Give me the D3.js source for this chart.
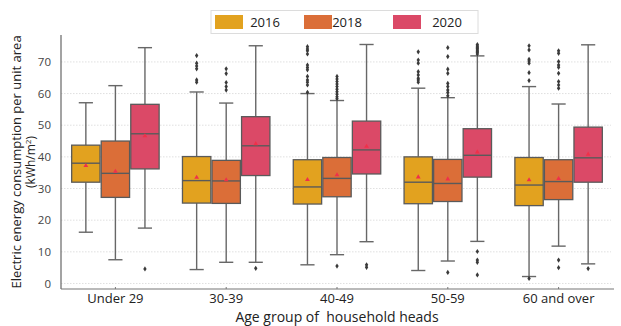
<!DOCTYPE html>
<html><head><meta charset="utf-8">
<script src="https://cdn.jsdelivr.net/npm/d3@7"></script>
<style>body{margin:0;background:#fff}svg{display:block;font-family:"Open Sans",sans-serif}</style>
</head><body><svg id="c" width="621" height="326"></svg>
<script>
const categories = ["Under 29","30-39","40-49","50-59","60 and over"];
const years = ["2016","2018","2020"];
const colors = ["#E2A21F","#DB6E38","#DB4967"];
const yTicks = [0,10,20,30,40,50,60,70];

const low2016 = [16.2, 4.4, 5.9, 4.1, 2.2];
const q1_2016 = [32.0, 25.4, 25.1, 25.2, 24.6];
const med2016 = [38.0, 32.5, 30.5, 32.0, 31.1];
const q3_2016 = [43.7, 40.1, 39.1, 40.0, 39.8];
const high2016 = [57.1, 60.5, 60.0, 61.7, 62.2];
const mean2016 = [37.2, 33.5, 32.8, 33.6, 32.7];
const out2016 = [[], [72.0, 69.6, 68.7, 67.8, 64.3, 63.6], [74.8, 74.1, 73.5, 72.5, 69.0, 68.2, 67.5, 65.4, 64.3, 63.6, 62.7, 60.4], [73.2, 70.6, 69.6, 66.9, 65.9, 64.8, 64.3, 63.6], [75.1, 73.8, 70.8, 70.3, 69.6, 66.6, 64.1, 1.6]];

const low2018 = [7.5, 6.7, 9.1, 7.1, 11.8];
const q1_2018 = [27.2, 25.3, 27.4, 25.9, 26.5];
const med2018 = [34.8, 32.4, 33.2, 31.6, 32.2];
const q3_2018 = [45.0, 38.9, 39.8, 39.2, 39.1];
const high2018 = [62.5, 57.0, 57.8, 58.7, 56.7];
const mean2018 = [35.4, 32.7, 34.3, 33.0, 33.1];
const out2018 = [[], [67.8, 66.3, 63.5, 62.2, 61.1], [65.4, 64.6, 63.8, 63.0, 62.2, 61.4, 60.6, 59.8, 59.0, 58.4, 5.5], [74.5, 71.7, 67.7, 66.4, 63.2, 62.2, 61.1, 60.3, 59.3, 3.5], [73.5, 72.7, 70.1, 69.0, 68.3, 66.4, 63.8, 62.7, 61.7, 7.4, 5.0]];

const low2020 = [17.5, 6.7, 13.2, 13.3, 6.2];
const q1_2020 = [36.2, 34.1, 34.6, 33.6, 32.0];
const med2020 = [47.3, 43.5, 42.2, 40.5, 39.7];
const q3_2020 = [56.6, 52.7, 51.3, 48.9, 49.4];
const high2020 = [74.5, 75.1, 75.5, 71.9, 75.4];
const mean2020 = [46.6, 44.1, 43.3, 41.5, 40.8];
const out2020 = [[4.6], [4.8], [5.9, 5.1], [75.5, 75.0, 74.6, 74.2, 73.8, 73.4, 73.0, 72.5, 10.1, 7.4, 6.7, 2.7], [4.7]];

const stats = [
  {low:low2016,q1:q1_2016,med:med2016,q3:q3_2016,high:high2016,mean:mean2016,out:out2016},
  {low:low2018,q1:q1_2018,med:med2018,q3:q3_2018,high:high2018,mean:mean2018,out:out2018},
  {low:low2020,q1:q1_2020,med:med2020,q3:q3_2020,high:high2020,mean:mean2020,out:out2020}
];

const svg = d3.select("#c");
const L=60, R=614, T=35, B=289;
const x = d3.scaleBand().domain(categories).range([L,R]).paddingInner(0).paddingOuter(0);
const sub = d3.scaleBand().domain(years).range([-x.bandwidth()*0.4, x.bandwidth()*0.4]);
const y = d3.scaleLinear().domain([-1.74, 78.5]).range([B,T]);

// grid
svg.append("g").selectAll("line").data(yTicks).join("line")
  .attr("x1",L+1).attr("x2",R-3).attr("y1",d=>y(d)).attr("y2",d=>y(d))
  .attr("stroke","#d8d8d8").attr("stroke-width",0.8).attr("stroke-dasharray","1.5,1.5");

// y axis
const ya = svg.append("g").attr("transform",`translate(${L+1},0)`)
  .call(d3.axisLeft(y).tickValues(yTicks).tickSize(0).tickPadding(10));
ya.select(".domain").remove();
ya.selectAll("text").attr("font-size",11.5).attr("fill","#444").attr("font-family","Open Sans, sans-serif");
svg.append("line").attr("x1",L+1).attr("x2",L+1).attr("y1",T).attr("y2",B).attr("stroke","#666").attr("stroke-width",1.2);

// x axis
const xa = svg.append("g").attr("transform",`translate(0,${B})`)
  .call(d3.axisBottom(x).tickSize(-2).tickPadding(5));
xa.select(".domain").remove();
xa.selectAll(".tick line").attr("stroke","#777");
xa.selectAll("text").attr("font-size",13).attr("fill","#222").attr("font-family","Open Sans, sans-serif");
svg.append("line").attr("x1",L+1).attr("x2",R).attr("y1",B).attr("y2",B).attr("stroke","#777").attr("stroke-width",1.2);

// boxes
const bw = sub.bandwidth()*0.96;
years.forEach((yr,k)=>{
  const s = stats[k];
  const g = svg.append("g");
  categories.forEach((c,i)=>{
    const cx = x(c)+x.bandwidth()/2 + sub(yr) + sub.bandwidth()/2;
    const gg = g.append("g");
    const wc="#676767", lw=1.4, cap=bw*0.5;
    gg.append("line").attr("x1",cx).attr("x2",cx).attr("y1",y(s.high[i])).attr("y2",y(s.q3[i])).attr("stroke",wc).attr("stroke-width",lw);
    gg.append("line").attr("x1",cx).attr("x2",cx).attr("y1",y(s.q1[i])).attr("y2",y(s.low[i])).attr("stroke",wc).attr("stroke-width",lw);
    gg.append("line").attr("x1",cx-cap/2).attr("x2",cx+cap/2).attr("y1",y(s.high[i])).attr("y2",y(s.high[i])).attr("stroke",wc).attr("stroke-width",lw);
    gg.append("line").attr("x1",cx-cap/2).attr("x2",cx+cap/2).attr("y1",y(s.low[i])).attr("y2",y(s.low[i])).attr("stroke",wc).attr("stroke-width",lw);
    gg.append("rect").attr("x",cx-bw/2).attr("width",bw).attr("y",y(s.q3[i])).attr("height",y(s.q1[i])-y(s.q3[i]))
      .attr("fill",colors[k]).attr("stroke","#5a5a5a").attr("stroke-width",1.3);
    gg.append("line").attr("x1",cx-bw/2).attr("x2",cx+bw/2).attr("y1",y(s.med[i])).attr("y2",y(s.med[i])).attr("stroke","#5a5a5a").attr("stroke-width",1.4);
    gg.append("path").attr("d",d3.symbol(d3.symbolTriangle,10)()).attr("transform",`translate(${cx},${y(s.mean[i])})`).attr("fill","#f0304a");
    gg.selectAll("path.o").data(s.out[i]).join("path").attr("class","o")
      .attr("d","M0,-2.6L1.7,0L0,2.6L-1.7,0Z").attr("transform",d=>`translate(${cx},${y(d)})`).attr("fill","#3a3a3a");
  });
});

// legend
const lg = svg.append("g");
lg.append("rect").attr("x",211).attr("y",10.5).attr("width",267).attr("height",23).attr("fill","#fff").attr("stroke","#dcdcdc");
years.forEach((yr,k)=>{
  const sx = 215 + k*89;
  lg.append("rect").attr("x",sx).attr("y",15).attr("width",28).attr("height",14).attr("fill",colors[k]);
  lg.append("text").attr("x",sx+[50,43,54][k]).attr("y",27).attr("text-anchor","middle").attr("font-size",13).attr("fill","#222").text(yr);
});

// titles
svg.append("text").attr("x",(L+R)/2).attr("y",322).attr("text-anchor","middle").attr("font-size",14).attr("fill","#222").attr("xml:space","preserve").text("Age group of  household heads");
const yt = svg.append("text").attr("transform","translate(21,162) rotate(-90)").attr("text-anchor","middle").attr("font-size",13).attr("fill","#222");
yt.append("tspan").attr("x",0).attr("dy",0).text("Electric energy consumption per unit area");
const t2 = yt.append("tspan").attr("x",0).attr("dy",14).attr("font-size",12);
t2.append("tspan").text("(kWh/m");
t2.append("tspan").attr("font-size",8).attr("dy",-4).text("2");
t2.append("tspan").attr("dy",4).text(")");
</script></body></html>
